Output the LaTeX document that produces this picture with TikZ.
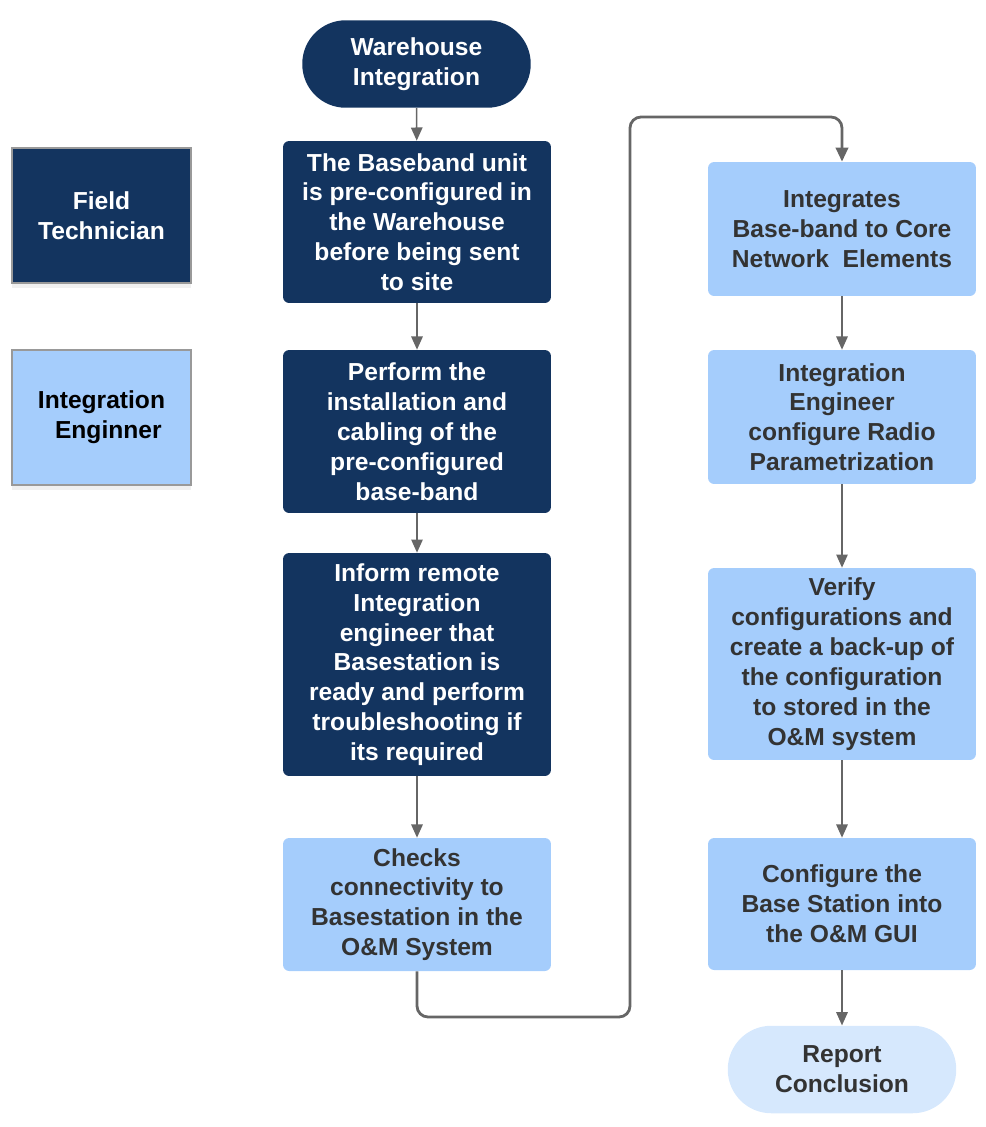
\documentclass[tikz,border=0pt]{standalone}
\usepackage{fontspec}
\setsansfont{Liberation Sans}
\usepackage{xcolor}
\usepackage{tikz}
\usetikzlibrary{arrows.meta,shadows}

\definecolor{navy}{HTML}{13345F}
\definecolor{skyblue}{HTML}{A5CDFC}
\definecolor{paleblue}{HTML}{D6E8FD}
\definecolor{linegray}{HTML}{666666}
\definecolor{darktext}{HTML}{333333}

\tikzset{
  txt/.style={font=\sffamily\bfseries\fontsize{14}{17}\selectfont, align=center},
  darkbox/.style={txt, rectangle, rounded corners=3.5pt, fill=navy, text=white, minimum width=5.36cm},
  lightbox/.style={txt, rectangle, rounded corners=3.5pt, fill=skyblue, text=darktext, minimum width=5.36cm},
  legend/.style={txt, rectangle, draw=gray!80, line width=0.6pt, minimum width=3.58cm, minimum height=2.7cm,
    drop shadow={shadow xshift=0pt, shadow yshift=-3pt, opacity=0.12}},
  terminal/.style={txt, rectangle, rounded corners=0.87cm, minimum width=4.57cm, minimum height=1.75cm},
  arrow/.style={draw=linegray, line width=0.9pt, -{Triangle[length=7.5pt,width=6.5pt]}},
  loopline/.style={draw=linegray, line width=1.6pt, rounded corners=0.22cm, -{Triangle[length=8pt,width=7pt]}}
}

\begin{document}
\begin{tikzpicture}[x=0.02cm, y=-0.02cm]
    \useasboundingbox (0,0) rectangle (986,1127);

    % legend
    \node[legend, fill=navy, text=white] (tech) at (101.5,215.5) {Field\\Technician};
    \node[legend, fill=skyblue, text=black] (eng) at (101.5,417.5) {Integration\\\ \ Enginner};

    % left column
    \node[terminal, fill=navy, text=white] (start) at (416.5,64) {Warehouse\\Integration};
    \node[darkbox, minimum height=3.24cm] (preconf) at (417,222) {The Baseband unit\\is pre-configured in\\the Warehouse\\before being sent\\to site};
    \node[darkbox, minimum height=3.26cm] (install) at (417,431.5) {Perform the\\installation and\\cabling of the\\pre-configured\\base-band};
    \node[darkbox, minimum height=4.46cm] (inform) at (417,664.5) {Inform remote\\Integration\\engineer that\\Basestation is\\ready and perform\\troubleshooting if\\its required};
    \node[lightbox, minimum height=2.66cm] (check) at (417,904.5) {Checks\\connectivity to\\Basestation in the\\O\&M System};

    % right column
    \node[lightbox, minimum height=2.68cm] (integ) at (842,229) {Integrates\\Base-band to Core\\Network\ \ Elements};
    \node[lightbox, minimum height=2.68cm] (radio) at (842,417) {Integration\\Engineer\\configure Radio\\Parametrization};
    \node[lightbox, minimum height=3.84cm] (verify) at (842,664) {Verify\\configurations and\\create a back-up of\\the configuration\\to stored in the\\O\&M system};
    \node[lightbox, minimum height=2.64cm] (config) at (842,904) {Configure the\\Base Station into\\the O\&M GUI};
    \node[terminal, fill=paleblue, text=darktext] (report) at (842,1069.5) {Report\\Conclusion};

    \coordinate (low) at (630,1017);
    \coordinate (high) at (842,117);

    \draw[arrow] (start) -- (preconf);
    \draw[arrow] (preconf) -- (install);
    \draw[arrow] (install) -- (inform);
    \draw[arrow] (inform) -- (check);
    \draw[loopline] (check.south) |- (low) |- (high) -- (integ.north);
    \draw[arrow] (integ) -- (radio);
    \draw[arrow] (radio) -- (verify);
    \draw[arrow] (verify) -- (config);
    \draw[arrow] (config) -- (report);
\end{tikzpicture}
\end{document}
